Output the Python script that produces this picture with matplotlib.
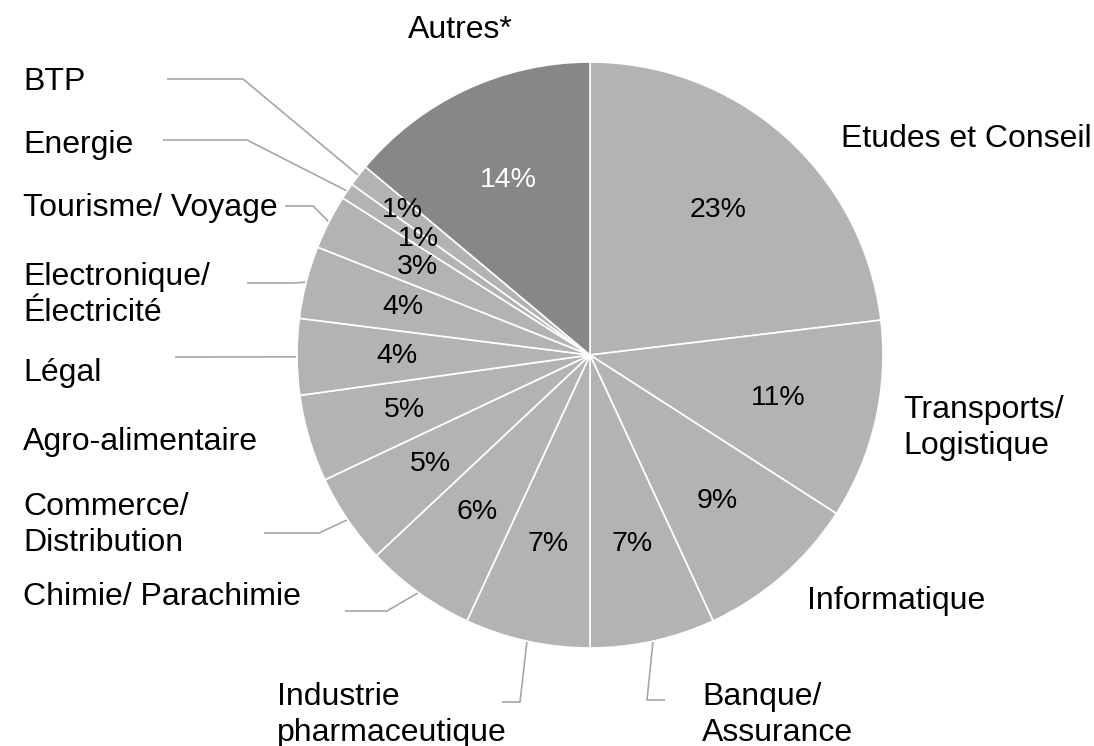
import numpy as np
import matplotlib
matplotlib.use("Agg")
from matplotlib import pyplot as plt

plt.rcParams['font.family'] = ['Liberation Sans', 'DejaVu Sans']

W, H = 1094, 746

# data: share of each sector (%), clockwise from 12 o'clock
sectors = ['Etudes et Conseil', 'Transports/\nLogistique', 'Informatique',
           'Banque/\nAssurance', 'Industrie\npharmaceutique', 'Chimie/ Parachimie',
           'Commerce/\nDistribution', 'Agro-alimentaire', 'Légal',
           'Electronique/\nÉlectricité', 'Tourisme/ Voyage', 'Energie', 'BTP',
           'Autres*']
shares = [23.1, 11.0, 9.0, 6.9, 6.9, 6.1, 5.0, 4.8, 4.2, 4.0, 3.0, 0.9, 1.2, 13.9]
colors = ['#b3b3b3'] * 13 + ['#878787']

# layout (pixels, y measured from the top)
cx, cy, R = 590, 355, 293
label_xy = [(841, 139), (903, 428), (807, 601), (702, 715), (277, 715),
            (23, 597), (23, 525), (23, 442), (23, 373), (23, 295),
            (23, 208), (23, 145), (23, 82), (408, 30)]
# leader lines: sector index -> (start, elbow)
leaders = {
    12: ((167, 79), (243, 79)),
    11: ((163, 140), (247, 140)),
    10: ((285, 206), (313, 206)),
    9: ((247, 283), (293, 283)),
    8: ((175, 357), (175, 357)),
    6: ((264, 533), (319, 533)),
    5: ((345, 611), (387, 611)),
    4: ((502, 702), (520, 702)),
    3: ((665, 700), (647, 700)),
}
pct_dist = {12: 0.81, 11: 0.706}

fig = plt.figure(figsize=(W / 100, H / 100), dpi=100)
ax = fig.add_axes([0, 0, 1, 1])

wedges, texts, autotexts = ax.pie(
    shares, colors=colors, startangle=90, counterclock=False,
    center=(cx, H - cy), radius=R,
    autopct=lambda p: '{:.0f}%'.format(p), pctdistance=0.66,
    wedgeprops=dict(edgecolor='white', linewidth=1.2),
    textprops=dict(fontsize=20.5, color='black'))
autotexts[-1].set_color('white')

for i, d in pct_dist.items():
    x, y = autotexts[i].get_position()
    k = d / 0.66
    autotexts[i].set_position((cx + (x - cx) * k, (H - cy) + (y - (H - cy)) * k))

for i, name in enumerate(sectors):
    x, y = label_xy[i]
    ax.text(x, H - y, name, fontsize=23, ha='left', va='center',
            linespacing=1.25)

for i, (p0, p1) in leaders.items():
    w = wedges[i]
    mid = np.deg2rad((w.theta1 + w.theta2) / 2)
    ex, ey = cx + R * np.cos(mid), (H - cy) + R * np.sin(mid)
    ax.plot([p0[0], p1[0], ex], [H - p0[1], H - p1[1], ey],
            color='#a6a6a6', lw=1.2, solid_capstyle='butt', zorder=0)

ax.set_xlim(0, W)
ax.set_ylim(0, H)
ax.set_aspect('equal')
ax.axis('off')

fig.savefig('out.png', dpi=100)
